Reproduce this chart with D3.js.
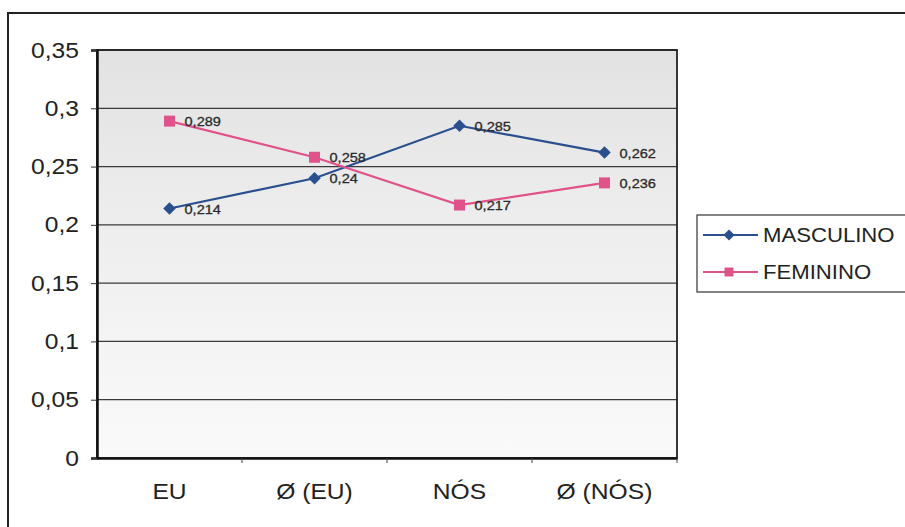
<!DOCTYPE html>
<html><head><meta charset="utf-8">
<script src="https://cdn.jsdelivr.net/npm/d3@7"></script>
<style>body{margin:0;background:#fff}svg{display:block}
text.sx{transform-box:fill-box}
</style>
</head><body>
<script>
const categories = ["EU", "Ø (EU)", "NÓS", "Ø (NÓS)"];
const masculino = [0.214, 0.24, 0.285, 0.262];
const feminino = [0.289, 0.258, 0.217, 0.236];
const yTicks = [0, 0.05, 0.1, 0.15, 0.2, 0.25, 0.3, 0.35];
const seriesNames = ["MASCULINO", "FEMININO"];

const W = 905, H = 527;
const svg = d3.select("body").append("svg").attr("width", W).attr("height", H);
const font = "'Liberation Sans', Arial, sans-serif";
function stretch(sel, origin, sx) {
  sel.attr("class", "sx").style("transform-origin", origin).style("transform", `scale(${sx || 1.12},1)`);
}

// outer frame
svg.append("rect").attr("x", 8).attr("y", 13).attr("width", 940).attr("height", 560)
  .attr("fill", "#fff").attr("stroke", "#222").attr("stroke-width", 2);

const L = 97, T = 50, R = 677, B = 458;
const x = d3.scaleBand().domain(categories).range([L, R]);
const y = d3.scaleLinear().domain([0, 0.35]).range([B, T]);

const defs = svg.append("defs");
const grad = defs.append("linearGradient").attr("id", "bg").attr("x1", 0).attr("y1", 0).attr("x2", 0).attr("y2", 1);
grad.append("stop").attr("offset", "0%").attr("stop-color", "#e2e2e2");
grad.append("stop").attr("offset", "45%").attr("stop-color", "#eeeeee");
grad.append("stop").attr("offset", "100%").attr("stop-color", "#fafafa");

svg.append("rect").attr("x", L).attr("y", T).attr("width", R - L).attr("height", B - T)
  .attr("fill", "url(#bg)");

// gridlines
svg.append("g").selectAll("line").data(yTicks.filter(d => d > 0)).join("line")
  .attr("x1", L).attr("x2", R).attr("y1", d => y(d)).attr("y2", d => y(d))
  .attr("stroke", "#3a3a3a").attr("stroke-width", 1.3);

svg.append("rect").attr("x", L).attr("y", T).attr("width", R - L).attr("height", B - T)
  .attr("fill", "none").attr("stroke", "#222").attr("stroke-width", 1.8);

// y axis
const yAxis = d3.axisLeft(y).tickValues(yTicks).tickSize(6).tickPadding(12)
  .tickFormat(d => d3.format("~g")(d).replace(".", ","));
const gy = svg.append("g").attr("transform", `translate(${L},0)`).call(yAxis);
gy.select(".domain").attr("stroke", "#111").attr("stroke-width", 2.5);
gy.selectAll(".tick line").attr("stroke", "#333");
gy.selectAll("text").attr("font-family", font).attr("font-size", 22).attr("fill", "#222")
  .call(stretch, "right center");

// x axis
const xAxis = d3.axisBottom(x).tickSize(0).tickPadding(25);
const gx = svg.append("g").attr("transform", `translate(0,${B})`).call(xAxis);
gx.select(".domain").attr("stroke", "#111").attr("stroke-width", 2.5);
gx.selectAll("text").attr("font-family", font).attr("font-size", 22).attr("fill", "#222")
  .call(stretch, "center center");
svg.append("g").selectAll("line").data(categories).join("line")
  .attr("x1", d => x(d) + x.bandwidth()).attr("x2", d => x(d) + x.bandwidth())
  .attr("y1", B).attr("y2", B + 5).attr("stroke", "#444");

const diamond = {draw(ctx, size) { const r = Math.sqrt(size) / 2 * 1.25;
  ctx.moveTo(0, -r); ctx.lineTo(r, 0); ctx.lineTo(0, r); ctx.lineTo(-r, 0); ctx.closePath(); }};

const series = [
  {name: seriesNames[0], values: masculino, color: "#2a4f8e", shape: diamond, size: 100},
  {name: seriesNames[1], values: feminino, color: "#e0528a", shape: d3.symbolSquare, size: 121}
];
const cx = i => x(categories[i]) + x.bandwidth() / 2;
const line = d3.line().x((d, i) => cx(i)).y(d => y(d));

series.forEach(s => {
  svg.append("path").datum(s.values).attr("d", line).attr("fill", "none")
    .attr("stroke", s.color).attr("stroke-width", 2.2);
  svg.append("g").selectAll("path").data(s.values).join("path")
    .attr("transform", (d, i) => `translate(${cx(i)},${y(d)})`)
    .attr("d", d3.symbol().type(s.shape).size(s.size))
    .attr("fill", s.color);
  svg.append("g").selectAll("text").data(s.values).join("text")
    .attr("x", (d, i) => cx(i) + 15).attr("y", d => y(d) + 5)
    .attr("font-family", font).attr("font-size", 13).attr("fill", "#2a2a2a")
    .attr("stroke", "#2a2a2a").attr("stroke-width", 0.3)
    .text(d => String(d).replace(".", ","))
    .call(stretch, "left center");
});

// legend
const lg = svg.append("g");
lg.append("rect").attr("x", 697).attr("y", 215).attr("width", 260).attr("height", 77)
  .attr("fill", "#fff").attr("stroke", "#333").attr("stroke-width", 1.2);
series.forEach((s, i) => {
  const ly = 235 + i * 37;
  lg.append("line").attr("x1", 703).attr("x2", 758).attr("y1", ly).attr("y2", ly)
    .attr("stroke", s.color).attr("stroke-width", 2);
  lg.append("path").attr("transform", `translate(729,${ly})`)
    .attr("d", d3.symbol().type(s.shape).size(80))
    .attr("fill", s.color);
  lg.append("text").attr("x", 763).attr("y", ly + 7).attr("font-family", font)
    .attr("font-size", 20.5).attr("fill", "#222").text(s.name)
    .call(stretch, "left center", 1.08);
});
</script>
</body></html>
